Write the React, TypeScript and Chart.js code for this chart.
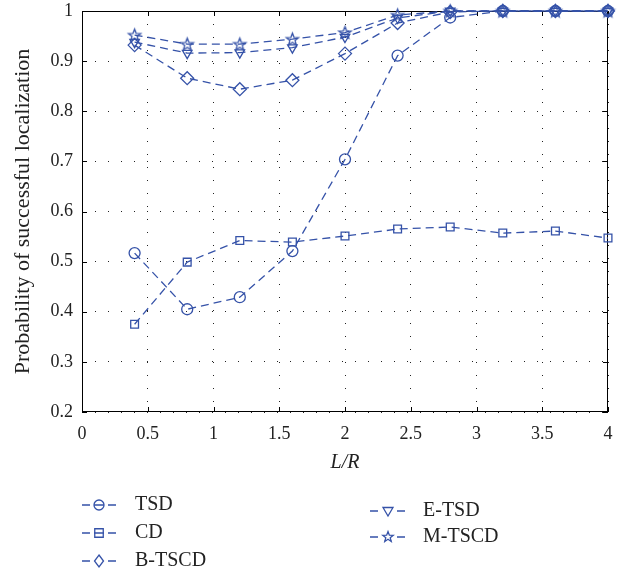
import React, { useEffect, useRef } from "react";
import { Chart, registerables } from "chart.js";

Chart.register(...registerables);

const xValues = [0.4, 0.8, 1.2, 1.6, 2.0, 2.4, 2.8, 3.2, 3.6, 4.0];
const tsd = [0.517, 0.405, 0.429, 0.521, 0.704, 0.911, 0.987, 1.0, 1.0, 1.0];
const cd = [0.375, 0.499, 0.542, 0.539, 0.551, 0.565, 0.569, 0.557, 0.561, 0.547];
const bTscd = [0.932, 0.866, 0.844, 0.862, 0.915, 0.976, 0.998, 1.0, 1.0, 1.0];
const eTsd = [0.938, 0.916, 0.917, 0.927, 0.948, 0.986, 1.0, 1.0, 1.0, 1.0];
const mTscd = [0.952, 0.934, 0.934, 0.944, 0.957, 0.992, 1.0, 1.0, 1.0, 1.0];
const seriesNames = ["TSD", "CD", "B-TSCD", "E-TSD", "M-TSCD"];
const xTitle = "L/R";
const yTitle = "Probability of successful localization";

const BLUE = "#3552a8";
const FONT = "'Liberation Serif', 'DejaVu Serif', serif";

function starPath(ctx: CanvasRenderingContext2D, cx: number, cy: number, r: number) {
  const inner = r * 0.42;
  ctx.beginPath();
  for (let i = 0; i < 10; i++) {
    const rad = i % 2 === 0 ? r : inner;
    const a = -Math.PI / 2 + (i * Math.PI) / 5;
    const px = cx + rad * Math.cos(a);
    const py = cy + rad * Math.sin(a);
    if (i === 0) ctx.moveTo(px, py);
    else ctx.lineTo(px, py);
  }
  ctx.closePath();
}

function makeStar(r: number) {
  const c = document.createElement("canvas");
  const s = Math.ceil(r * 2 + 4);
  c.width = s;
  c.height = s;
  const ctx = c.getContext("2d")!;
  ctx.strokeStyle = BLUE;
  ctx.lineWidth = 1.3;
  starPath(ctx, s / 2, s / 2 + 0.5, r);
  ctx.stroke();
  return c;
}

function drawMarker(ctx: CanvasRenderingContext2D, kind: string, x: number, y: number, r: number) {
  ctx.beginPath();
  if (kind === "circle") {
    ctx.arc(x, y, r, 0, Math.PI * 2);
  } else if (kind === "rect") {
    ctx.rect(x - r * 0.85, y - r * 0.85, r * 1.7, r * 1.7);
  } else if (kind === "diamond") {
    ctx.moveTo(x, y - r * 1.2);
    ctx.lineTo(x + r * 0.9, y);
    ctx.lineTo(x, y + r * 1.2);
    ctx.lineTo(x - r * 0.9, y);
    ctx.closePath();
  } else if (kind === "tri") {
    ctx.moveTo(x - r, y - r * 0.7);
    ctx.lineTo(x + r, y - r * 0.7);
    ctx.lineTo(x, y + r * 1.0);
    ctx.closePath();
  } else if (kind === "star") {
    starPath(ctx, x, y, r * 1.1);
  }
  ctx.stroke();
}

const legendItems = [
  { name: seriesNames[0], kind: "circle", col: 0, row: 0 },
  { name: seriesNames[1], kind: "rect", col: 0, row: 1 },
  { name: seriesNames[2], kind: "diamond", col: 0, row: 2 },
  { name: seriesNames[3], kind: "tri", col: 1, row: 0 },
  { name: seriesNames[4], kind: "star", col: 1, row: 1 },
];

const framePlugin = {
  id: "frame",
  beforeDatasetsDraw(chart: any) {
    const { ctx, chartArea } = chart;
    const { left, right, top, bottom } = chartArea;
    ctx.save();
    ctx.strokeStyle = "#000";
    ctx.lineWidth = 1;
    ctx.setLineDash([]);
    ctx.strokeRect(left + 0.5, top + 0.5, right - left - 1, bottom - top - 1);
    const xs = chart.scales.x;
    const ys = chart.scales.y;
    const tl = 5;
    ctx.beginPath();
    xs.ticks.forEach((t: any) => {
      const px = Math.round(xs.getPixelForValue(t.value)) + 0.5;
      ctx.moveTo(px, bottom);
      ctx.lineTo(px, bottom - tl);
      ctx.moveTo(px, top);
      ctx.lineTo(px, top + tl);
    });
    ys.ticks.forEach((t: any) => {
      const py = Math.round(ys.getPixelForValue(t.value)) + 0.5;
      ctx.moveTo(left, py);
      ctx.lineTo(left + tl, py);
      ctx.moveTo(right, py);
      ctx.lineTo(right - tl, py);
    });
    ctx.stroke();
    ctx.restore();
  },
  afterDraw(chart: any) {
    const ctx = chart.ctx as CanvasRenderingContext2D;
    ctx.save();
    const cols = [
      { dash1: 82, marker: 99, text: 135, rows: [505, 533, 561] },
      { dash1: 370, marker: 388, text: 423, rows: [511, 537] },
    ];
    legendItems.forEach((it) => {
      const c = cols[it.col];
      const y = c.rows[it.row];
      ctx.strokeStyle = BLUE;
      ctx.lineWidth = 1.3;
      ctx.beginPath();
      ctx.moveTo(c.dash1, y);
      ctx.lineTo(c.dash1 + 8, y);
      ctx.moveTo(c.marker + 9, y);
      ctx.lineTo(c.marker + 17, y);
      if (it.kind === "circle" || it.kind === "rect") {
        ctx.moveTo(c.marker - 5, y);
        ctx.lineTo(c.marker + 5, y);
      }
      ctx.stroke();
      drawMarker(ctx, it.kind, c.marker, y, 5);
      ctx.fillStyle = "#222";
      ctx.font = `20px ${FONT}`;
      ctx.textBaseline = "middle";
      ctx.textAlign = "left";
      ctx.fillText(it.name, c.text, y);
    });
    ctx.restore();
  },
};

export default function App() {
  const ref = useRef<HTMLCanvasElement | null>(null);
  useEffect(() => {
    if (!ref.current) return;
    const star = makeStar(6.5);
    const mk = (label: string, data: number[], pointStyle: any, radius: number, extra: any = {}) => ({
      label,
      data: xValues.map((x, i) => ({ x, y: data[i] })),
      borderColor: BLUE,
      backgroundColor: "transparent",
      pointBorderColor: BLUE,
      pointBackgroundColor: "transparent",
      borderWidth: 1.3,
      pointBorderWidth: 1.3,
      borderDash: [8, 5],
      pointStyle,
      pointRadius: radius,
      showLine: true,
      fill: false,
      clip: false,
      ...extra,
    });
    const chart = new Chart(ref.current, {
      type: "scatter",
      data: {
        datasets: [
          mk(seriesNames[0], tsd, "circle", 5.5),
          mk(seriesNames[1], cd, "rect", 5.5),
          mk(seriesNames[2], bTscd, "rectRot", 6.5),
          mk(seriesNames[3], eTsd, "triangle", 5.5, { pointRotation: 180 }),
          mk(seriesNames[4], mTscd, star, 6.5),
        ],
      },
      options: {
        animation: false,
        responsive: false,
        maintainAspectRatio: false,
        layout: { padding: { left: 0, right: 22, top: 11, bottom: 98 } },
        plugins: { legend: { display: false }, tooltip: { enabled: false } },
        scales: {
          x: {
            type: "linear",
            min: 0,
            max: 4,
            afterFit: (s: any) => {
              s.height = 63;
              s.paddingLeft = 0;
              s.paddingRight = 0;
            },
            ticks: {
              stepSize: 0.5,
              color: "#222",
              padding: 11,
              font: { family: FONT, size: 18 },
              callback: (v: any) => String(Number(Number(v).toFixed(1))),
            },
            grid: { color: "#222", lineWidth: 1, drawTicks: false },
            border: { display: false, dash: [1, 12] },
            title: {
              display: true,
              text: xTitle,
              color: "#222",
              font: { family: FONT, size: 20, style: "italic" },
              padding: { top: 0, bottom: 0 },
            },
          },
          y: {
            type: "linear",
            min: 0.2,
            max: 1,
            afterFit: (s: any) => {
              s.width = 82;
              s.paddingTop = 0;
              s.paddingBottom = 0;
            },
            ticks: {
              stepSize: 0.1,
              color: "#222",
              padding: 9,
              font: { family: FONT, size: 18 },
              callback: (v: any) => String(Number(Number(v).toFixed(1))),
            },
            grid: { color: "#222", lineWidth: 1, drawTicks: false },
            border: { display: false, dash: [1, 12] },
            title: {
              display: true,
              text: yTitle,
              color: "#222",
              font: { family: FONT, size: 22 },
              padding: { top: 10, bottom: 0 },
            },
          },
        },
      },
      plugins: [framePlugin],
    });
    return () => chart.destroy();
  }, []);
  return (
    <canvas
      ref={ref}
      width={630}
      height={573}
      style={{ position: "absolute", left: 0, top: 0, width: 630, height: 573 }}
    />
  );
}
